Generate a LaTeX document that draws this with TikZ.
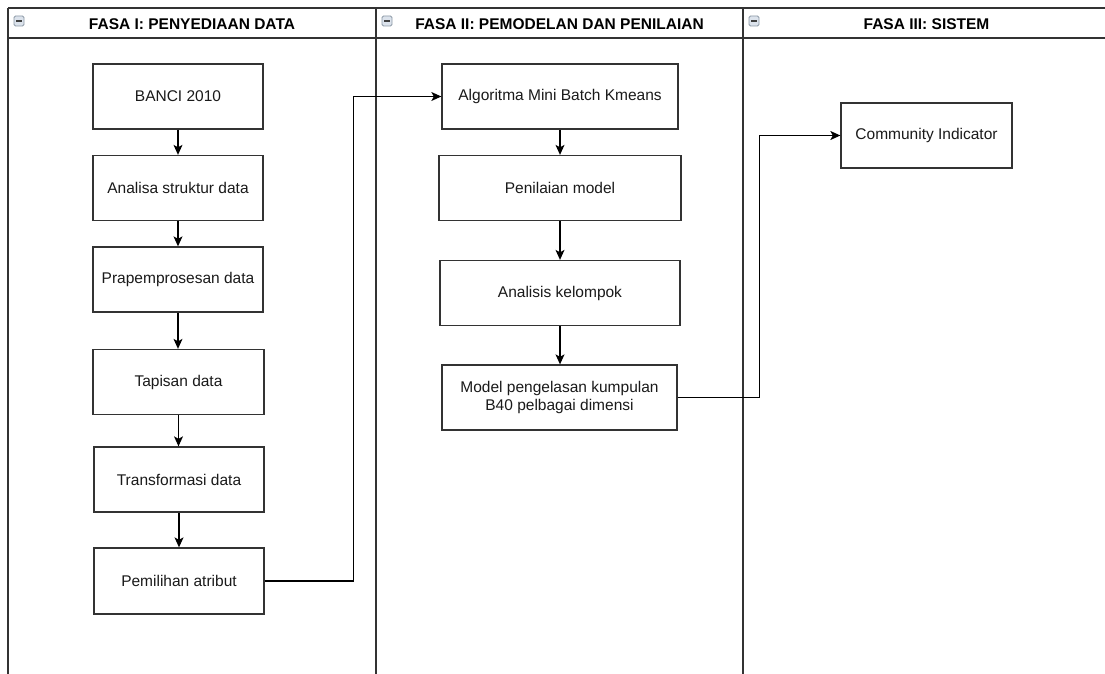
\documentclass[tikz,border=0pt]{standalone}
\usepackage{fontspec}
\setmainfont{Liberation Sans}
\usetikzlibrary{arrows.meta}
\definecolor{linec}{HTML}{333333}
\definecolor{textc}{HTML}{1A1A1A}
\definecolor{iconfill}{HTML}{DCE3EC}
\definecolor{icondraw}{HTML}{8C99A6}
\tikzset{
  procbox/.style={draw=linec, line width=1.3pt, fill=white, rectangle, inner sep=0pt,
    text=textc, align=center, font=\fontsize{15.5}{18}\selectfont},
  lanetitle/.style={text=black, inner sep=0pt, font=\bfseries\fontsize{15.5}{18}\selectfont},
  laneline/.style={draw=linec, line width=1.5pt},
  arr/.style={draw=black, line width=1.2pt, -{Stealth[length=10pt,width=9pt,inset=2.5pt]}},
  iconbox/.style={draw=icondraw, fill=iconfill, rounded corners=1.5pt, line width=0.8pt,
    minimum width=10pt, minimum height=10pt, inner sep=0pt,
    path picture={\draw[line width=1.5pt, black!75] ([xshift=-3pt]path picture bounding box.center) -- ([xshift=3pt]path picture bounding box.center);}}
}
\begin{document}
\begin{tikzpicture}[x=1pt, y=-1pt]
\useasboundingbox (0,0) rectangle (1105,674);
\clip (0,0) rectangle (1105,674);
\fill[white] (0,0) rectangle (1105,674);

% swimlane frame
\draw[laneline] (8,8) -- (1112,8);
\draw[laneline] (8,38) -- (1112,38);
\draw[laneline] (8,8) -- (8,690);
\draw[laneline] (376,8) -- (376,690);
\draw[laneline] (743,8) -- (743,690);
\draw[laneline] (1110,8) -- (1110,690);

% lane headers
\node[lanetitle] (h1) at (192,24) {FASA I: PENYEDIAAN DATA};
\node[lanetitle] (h2) at (559.5,24) {FASA II: PEMODELAN DAN PENILAIAN};
\node[lanetitle] (h3) at (926.5,24) {FASA III: SISTEM};
\node[iconbox] (i1) at (19,21) {};
\node[iconbox] (i2) at (387,21) {};
\node[iconbox] (i3) at (754,21) {};

% lane 1
\node[procbox, minimum width=170pt, minimum height=65pt] (banci) at (178,96.5) {BANCI 2010};
\node[procbox, minimum width=170pt, minimum height=65pt] (ana) at (178,188) {Analisa struktur data};
\node[procbox, minimum width=170pt, minimum height=65pt] (pra) at (178,279.5) {Prapemprosesan data};
\node[procbox, minimum width=171pt, minimum height=65pt] (tap) at (178.5,382) {Tapisan data};
\node[procbox, minimum width=170pt, minimum height=65pt] (tra) at (179,479.5) {Transformasi data};
\node[procbox, minimum width=170pt, minimum height=66pt] (pem) at (179,581) {Pemilihan atribut};

% lane 2
\node[procbox, minimum width=236pt, minimum height=65pt] (alg) at (560,96.5) {Algoritma Mini Batch Kmeans};
\node[procbox, minimum width=242pt, minimum height=65pt] (pen) at (560,188) {Penilaian model};
\node[procbox, minimum width=240pt, minimum height=65pt] (kel) at (560,293) {Analisis kelompok};
\node[procbox, minimum width=235pt, minimum height=65pt] (mod) at (559.5,397.5) {Model pengelasan kumpulan\\B40 pelbagai dimensi};

% lane 3
\node[procbox, minimum width=171pt, minimum height=65pt] (ci) at (926.5,135.5) {Community Indicator};

% connectors
\draw[arr] (banci.south) -- (ana.north);
\draw[arr] (ana.south) -- (pra.north);
\draw[arr] (pra.south) -- (pra.south |- tap.north);
\draw[arr] (tap.south) -- (tap.south |- tra.north);
\draw[arr] (tra.south) -- (tra.south |- pem.north);
\draw[arr] (pem.east) -- ++(89,0) |- (alg.west);
\draw[arr] (alg.south) -- (pen.north);
\draw[arr] (pen.south) -- (kel.north);
\draw[arr] (kel.south) -- (kel.south |- mod.north);
\draw[arr] (mod.east) -- ++(82,0) |- (ci.west);
\end{tikzpicture}
\end{document}
